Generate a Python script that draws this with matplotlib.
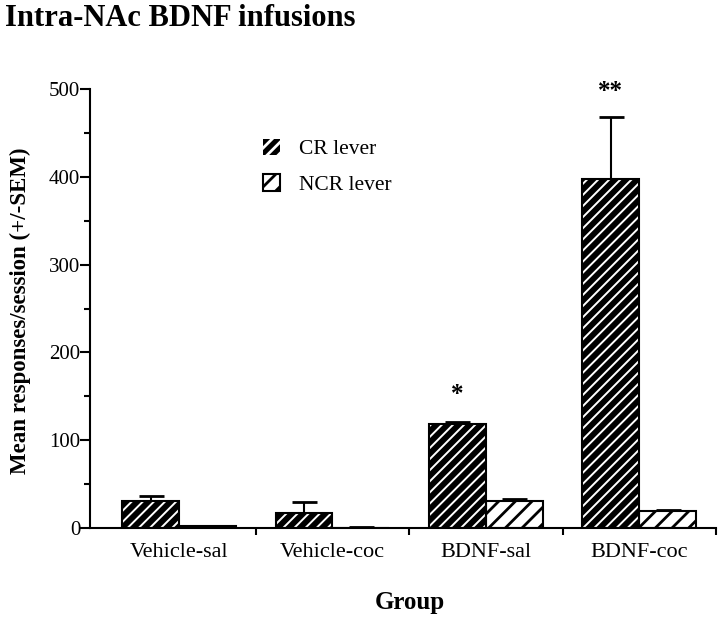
import numpy as np
import matplotlib.pyplot as plt
from matplotlib.patches import Patch

groups = ["Vehicle-sal", "Vehicle-coc", "BDNF-sal", "BDNF-coc"]
cr_mean = [31, 17, 118, 397]
cr_sem = [5, 13, 3, 71]
ncr_mean = [2, 0.5, 31, 19]
ncr_sem = [0.5, 0.3, 2, 2]
stars = ["", "", "*", "**"]
star_y = [0, 0, 152, 497]

plt.rcParams['font.family'] = ['Liberation Serif', 'DejaVu Serif']

fig = plt.figure(figsize=(7.2, 6.18), dpi=100)
ax = fig.add_axes([0.125, 0.1456, 0.8694, 0.7104])

x = np.arange(len(groups))
w = 0.37

# CR lever: black bar with white hatch, then black outline on top
plt.rcParams['hatch.linewidth'] = 1.4
ax.bar(x - w / 2, cr_mean, w, color='black', edgecolor='white', hatch='///', linewidth=0, zorder=2)
ax.bar(x - w / 2, cr_mean, w, color='none', edgecolor='black', linewidth=1.5, zorder=3)
cr_handle = Patch(facecolor='black', edgecolor='white', hatch='///', linewidth=0)

# NCR lever: white bar with black hatch
plt.rcParams['hatch.linewidth'] = 2.0
ax.bar(x + w / 2, ncr_mean, w, color='white', edgecolor='black', hatch='//', linewidth=1.5, zorder=2)
ncr_handle = Patch(facecolor='white', edgecolor='black', hatch='//', linewidth=1.5)

ax.errorbar(x - w / 2, cr_mean, yerr=[np.zeros(4), cr_sem], fmt='none', ecolor='black',
            elinewidth=1.5, capsize=9, capthick=2, zorder=1)
ax.errorbar(x + w / 2, ncr_mean, yerr=[np.zeros(4), ncr_sem], fmt='none', ecolor='black',
            elinewidth=1.5, capsize=9, capthick=2, zorder=1)

for xi, s, sy in zip(x - w / 2, stars, star_y):
    if s:
        ax.text(xi, sy, s, ha='center', va='center', fontsize=18, fontweight='bold')

ax.set_xlim(-0.58, 3.5)
ax.set_ylim(0, 500)

ax.set_yticks(np.arange(0, 501, 100))
ax.set_yticks(np.arange(50, 500, 100), minor=True)
ax.tick_params(axis='y', which='major', direction='out', length=7, width=1.5, labelsize=15, pad=0)
ax.tick_params(axis='y', which='minor', direction='out', length=4, width=1.5)

ax.set_xticks(x + 0.5)
ax.set_xticklabels([])
ax.set_xticks(x, minor=True)
ax.set_xticklabels(groups, minor=True)
ax.tick_params(axis='x', which='major', direction='out', length=5, width=1.5)
ax.tick_params(axis='x', which='minor', length=0, labelsize=16, pad=11)

for side in ['top', 'right']:
    ax.spines[side].set_visible(False)
for side in ['left', 'bottom']:
    ax.spines[side].set_linewidth(1.5)

fig.text(20 / 720, 1 - 311 / 618, "Mean responses/session (+/-SEM)", fontsize=16.5, fontweight='bold',
         rotation=90, ha='center', va='center')
fig.text(410 / 720, 1 - 603 / 618, "Group", fontsize=18, fontweight='bold', ha='center', va='center')

ax.legend([cr_handle, ncr_handle], ["CR lever", "NCR lever"], loc='upper left',
          bbox_to_anchor=(252 / 720, 1 - 128 / 618), bbox_transform=fig.transFigure, frameon=False,
          fontsize=15.5, handlelength=0.8, handleheight=0.8, labelspacing=0.68, handletextpad=0.9, borderpad=0)

fig.text(5 / 720, 1 - 18 / 618, "Intra-NAc BDNF infusions", fontsize=22, fontweight='bold', va='center', ha='left')

fig.savefig("out.png", dpi=100)
